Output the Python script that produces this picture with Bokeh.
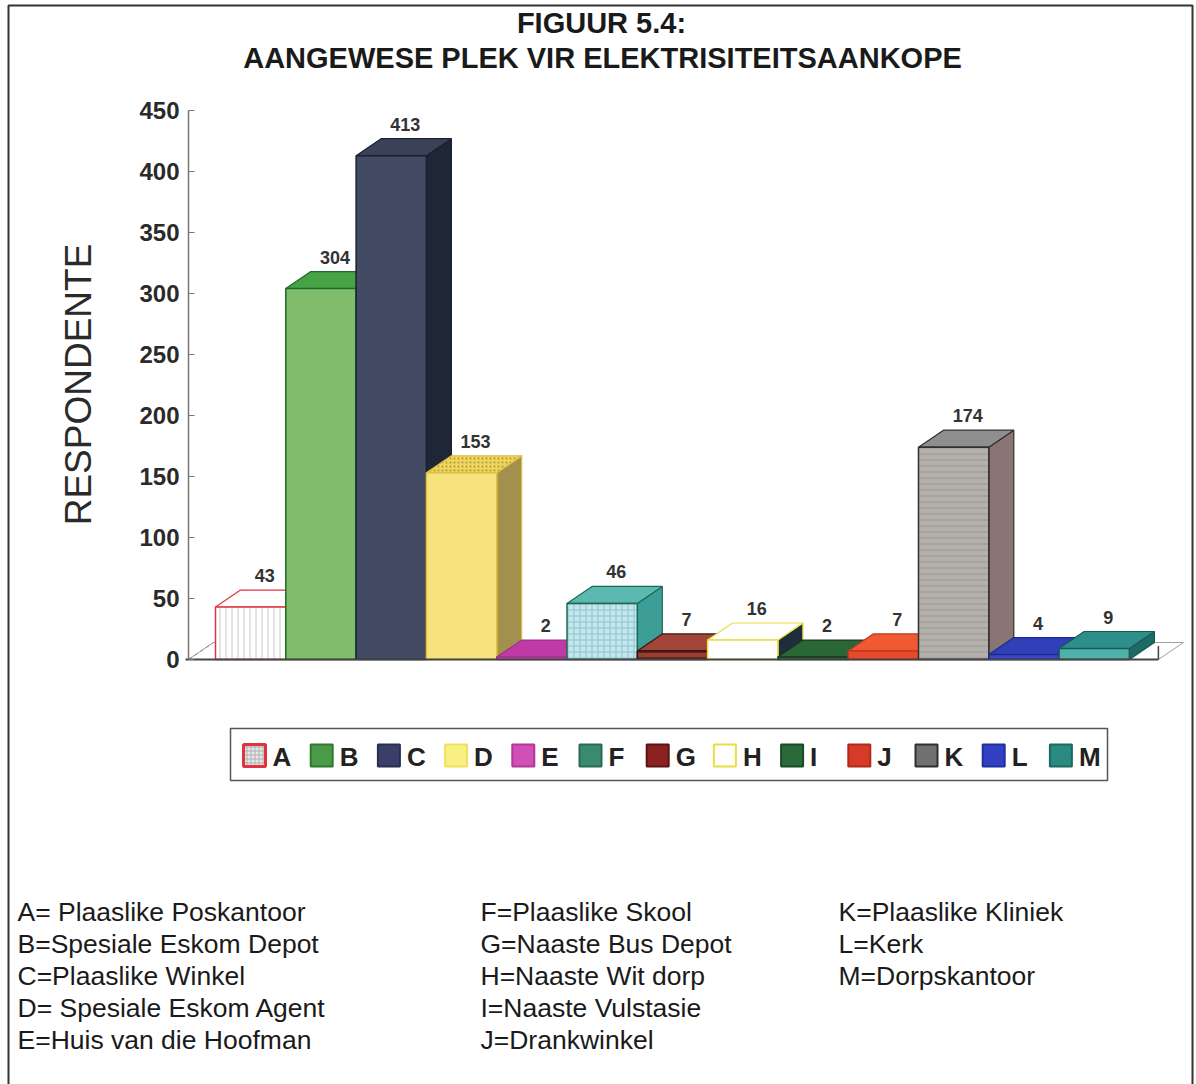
from bokeh.plotting import figure
from bokeh.models import Range1d
from bokeh.core.properties import value
from bokeh.embed import file_html
from bokeh.resources import INLINE
import math

# ---- data -------------------------------------------------------------
categories = ["A", "B", "C", "D", "E", "F", "G", "H", "I", "J", "K", "L", "M"]
respondents = [43, 304, 413, 153, 2, 46, 7, 16, 2, 7, 174, 4, 9]
y_ticks = [0, 50, 100, 150, 200, 250, 300, 350, 400, 450]
title_lines = ["FIGUUR 5.4:", "AANGEWESE PLEK VIR ELEKTRISITEITSAANKOPE"]
y_label = "RESPONDENTE"
key_col1 = ["A= Plaaslike Poskantoor", "B=Spesiale Eskom Depot", "C=Plaaslike Winkel",
            "D= Spesiale Eskom Agent", "E=Huis van die Hoofman"]
key_col2 = ["F=Plaaslike Skool", "G=Naaste Bus Depot", "H=Naaste Wit dorp",
            "I=Naaste Vulstasie", "J=Drankwinkel"]
key_col3 = ["K=Plaaslike Kliniek", "L=Kerk", "M=Dorpskantoor"]

# ---- bar styles: front, top, side, outline, hatches --------------------
styles = [
    dict(front="#ffffff", top="#ffffff", side="#ffffff", line="#e0343c", hatch="vertical_line", hcol="#c8c8c8", thatch=None),
    dict(front="#80bc6c", top="#45a345", side="#2f7f35", line="#1f6a2a", hatch=None, hcol=None, thatch=None),
    dict(front="#424b63", top="#3a4258", side="#1e2735", line="#1a2030", hatch=None, hcol=None, thatch=None),
    dict(front="#f7e27c", top="#eed45a", side="#a4904e", line="#e0c040", hatch=None, hcol=None, thatch="#b09a40"),
    dict(front="#d24cb4", top="#c03aa6", side="#8a2a7a", line="#a0308a", hatch=None, hcol=None, thatch=None),
    dict(front="#c4e6ec", top="#5cb9b0", side="#3c9e96", line="#1c6a55", hatch="cross", hcol="#8cc4cc", thatch=None),
    dict(front="#9c3b30", top="#a04538", side="#5a1c18", line="#3a1410", hatch="horizontal_line", hcol="#2a1010", thatch=None),
    dict(front="#ffffff", top="#ffffff", side="#1e2c3c", line="#e8e040", hatch=None, hcol=None, thatch=None),
    dict(front="#2d6e3c", top="#2a6636", side="#1a4424", line="#173a20", hatch=None, hcol=None, thatch=None),
    dict(front="#e8482c", top="#f05a32", side="#a83020", line="#c03820", hatch=None, hcol=None, thatch=None),
    dict(front="#b4b0ac", top="#8e8e8e", side="#8a7474", line="#303030", hatch="horizontal_line", hcol="#9a9690", thatch=None),
    dict(front="#3848c4", top="#3040b8", side="#202c80", line="#1c2a90", hatch=None, hcol=None, thatch=None),
    dict(front="#4fb0aa", top="#2e8f8a", side="#1e6a66", line="#1a5a56", hatch=None, hcol=None, thatch=None),
]
legend_fill = ["#e8e8e8", "#4a9a48", "#3a3f6a", "#f8f080", "#d050b8", "#3a8a70", "#8a2222",
               "#ffffff", "#2a6a3a", "#d83a28", "#707070", "#3040c0", "#2a8a82"]
legend_line = ["#e0343c", "#2e7a30", "#2a2f50", "#f0e060", "#b03898", "#2a6a55", "#5a1414",
               "#e8e040", "#1a4a28", "#b02a1c", "#303030", "#2030a0", "#1a6a62"]

# ---- layout -----------------------------------------------------------
W, H = 1196, 1084
BASE_PX = 659            # pixel row of value 0
PX_PER_UNIT = 1.22       # pixels per respondent
X0, BAR_W = 215, 70.3    # first bar front edge and bar width (px)
DX, DY_PX = 25, 17       # 3-D depth offset (px)
DYU = DY_PX / PX_PER_UNIT

FONT = value("Liberation Sans")


def ypx(py):
    """Pixel row -> data value on the vertical scale."""
    return (BASE_PX - py) / PX_PER_UNIT


p = figure(width=W, height=H, x_range=Range1d(0, W), y_range=Range1d(ypx(H), ypx(0)),
           x_axis_type=None, y_axis_type=None, toolbar_location=None,
           output_backend="svg", min_border=0)
p.outline_line_color = None
p.background_fill_color = "white"
p.border_fill_color = "white"

# outer frame
p.quad(left=[8], right=[1192], top=[ypx(5)], bottom=[ypx(1092)],
       fill_color=None, line_color="#333333", line_width=2)

# title
p.text(x=[601, 602], y=[ypx(22), ypx(57)], text=title_lines, text_font=FONT,
       text_font_size="29px", text_font_style="bold", text_align="center",
       text_baseline="middle", text_color="#1a1a1a")

# floor
floor_right = X0 + len(categories) * BAR_W + 29
p.patch([188, floor_right, floor_right + DX, 188 + DX], [0, 0, DYU, DYU],
        fill_color="white", line_color="#a0a0a0", line_width=1)
p.line([188, 188 + DX], [0, DYU], line_color="#888888", line_dash="4 3", line_width=1)
p.line([floor_right, floor_right], [0, DYU * 0.8], line_color="#444444", line_width=1.5)

# bars (left to right so each bar hides the previous one's side)
for i, v in enumerate(respondents):
    s = styles[i]
    L = X0 + i * BAR_W
    R = L + BAR_W
    p.patch([R, R + DX, R + DX, R], [0, DYU, v + DYU, v],
            fill_color=s["side"], line_color=s["line"], line_width=1.2)
    tkw = {}
    if s["thatch"]:
        tkw = dict(hatch_pattern="dot", hatch_color=s["thatch"], hatch_scale=4)
    p.patch([L, R, R + DX, L + DX], [v, v, v + DYU, v + DYU],
            fill_color=s["top"], line_color=s["line"], line_width=1.2, **tkw)
    kw = {}
    if s["hatch"]:
        kw = dict(hatch_pattern=s["hatch"], hatch_color=s["hcol"], hatch_scale=6,
                  hatch_weight=1)
    p.quad(left=[L], right=[R], bottom=[0], top=[v], fill_color=s["front"],
           line_color=s["line"], line_width=1.5, **kw)

# value labels
p.text(x=[X0 + i * BAR_W + BAR_W / 2 + 14 for i in range(len(respondents))],
       y=[v + DYU + 8 / PX_PER_UNIT for v in respondents],
       text=[str(v) for v in respondents], text_font=FONT, text_font_size="18px",
       text_font_style="bold", text_align="center", text_baseline="bottom",
       text_color="#333333")

# baseline and vertical axis
p.line([185, floor_right], [0, 0], line_color="#444444", line_width=2)
p.line([188, 188], [0, y_ticks[-1]], line_color="#777777", line_width=1.5)
p.segment(x0=[188] * len(y_ticks), y0=y_ticks, x1=[194] * len(y_ticks), y1=y_ticks,
          line_color="#777777", line_width=1.2)
p.text(x=[179] * len(y_ticks), y=y_ticks, text=[str(t) for t in y_ticks], text_font=FONT,
       text_font_size="24px", text_font_style="bold", text_align="right",
       text_baseline="middle", text_color="#2a2a2a")
p.text(x=[78], y=[ypx(384)], text=[y_label], angle=math.pi / 2, text_font=FONT,
       text_font_size="37px", text_align="center", text_baseline="middle",
       text_color="#2a2a2a")

# legend box
p.quad(left=[230], right=[1107], top=[ypx(728)], bottom=[ypx(780)],
       fill_color="white", line_color="#555555", line_width=1.5)
for i, c in enumerate(categories):
    lx = 243 + i * 67.2
    kw = {}
    if i == 0:
        kw = dict(hatch_pattern="cross", hatch_color="#b0b0b0", hatch_scale=4)
    p.quad(left=[lx], right=[lx + 22], top=[ypx(744)], bottom=[ypx(766)],
           fill_color=legend_fill[i], line_color=legend_line[i],
           line_width=3 if i == 0 else 2, **kw)
p.text(x=[243 + i * 67.2 + 29 for i in range(len(categories))],
       y=[ypx(756)] * len(categories), text=categories, text_font=FONT,
       text_font_size="26px", text_font_style="bold", text_align="left",
       text_baseline="middle", text_color="#222222")

# key to the categories
for col_x, col in zip([17, 480, 838], [key_col1, key_col2, key_col3]):
    p.text(x=[col_x] * len(col), y=[ypx(911 + 32 * r) for r in range(len(col))],
           text=col, text_font=FONT, text_font_size="26.5px", text_align="left",
           text_baseline="middle", text_color="#1a1a1a")

open("out.html", "w").write(file_html(p, INLINE))
